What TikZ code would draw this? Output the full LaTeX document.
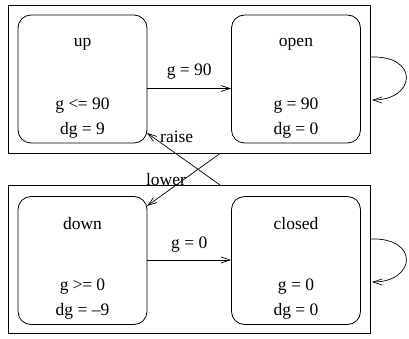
\documentclass[tikz,border=0pt]{standalone}
\usepackage{fontspec}
\setmainfont{Liberation Serif}
\usetikzlibrary{arrows.meta,calc}
\begin{document}
\begin{tikzpicture}[x=1pt,y=-1pt,
  outer/.style={draw,line width=0.8pt,minimum width=362pt,minimum height=148pt,inner sep=0pt},
  state/.style={draw,line width=0.8pt,rounded corners=13pt,minimum width=129pt,minimum height=128pt,inner sep=0pt},
  lbl/.style={font=\fontsize{17.5}{20}\selectfont,inner sep=0pt},
  conn/.style={line width=0.7pt,-{Straight Barb[length=9pt,width=6pt]}},
]
\useasboundingbox (0,0) rectangle (409,339);
\node[outer] (top) at (189,79) {};
\node[outer] (bot) at (189,259.5) {};
\node[state] (up) at (82.5,79) {};
\node[state] (open) at (296,79) {};
\node[state] (down) at (82.5,260.5) {};
\node[state] (closed) at (296,260.5) {};
% texts
\node[lbl] (tup) at (82.5,44) {up};
\node[lbl] (tup1) at (82.5,106) {g <\kern-0.5pt= 90};
\node[lbl] (tup2) at (82.5,130) {dg = 9};
\node[lbl] (topen) at (296,44) {open};
\node[lbl] (topen1) at (296,106) {g = 90};
\node[lbl] (topen2) at (296,130) {dg = 0};
\node[lbl] (tdown) at (82.5,224) {down};
\node[lbl] (tdown1) at (82.5,287) {g >\kern-0.5pt= 0};
\node[lbl] (tdown2) at (82.5,311) {dg = \textendash9};
\node[lbl] (tclosed) at (296,224) {closed};
\node[lbl] (tclosed1) at (296,287) {g = 0};
\node[lbl] (tclosed2) at (296,311) {dg = 0};
% transitions
\draw[conn] (up.east |- 0,88.5) -- (open.west |- 0,88.5) node[midway,above=9pt,lbl] {g = 90};
\draw[conn] (down.east |- 0,260) -- (closed.west |- 0,260) node[midway,above=7pt,lbl] {g = 0};
\coordinate (rs) at (220,185);
\coordinate (ls) at (220,153.5);
\coordinate (re) at (147,133);
\coordinate (le) at (147,206);
\draw[conn] (rs) -- (re);
\draw[conn] (ls) -- (le);
\node[lbl,anchor=west] (traise) at (160,137) {raise};
\node[lbl] (tlower) at (166,180) {lower};
% self loops
\coordinate (o1) at (370,57);
\coordinate (o2) at (372,100);
\coordinate (c1) at (370,239);
\coordinate (c2) at (372,282);
\draw[conn] (o1) .. controls (420,55) and (416,100) .. (o2);
\draw[conn] (c1) .. controls (420,237) and (416,282) .. (c2);
\end{tikzpicture}
\end{document}
